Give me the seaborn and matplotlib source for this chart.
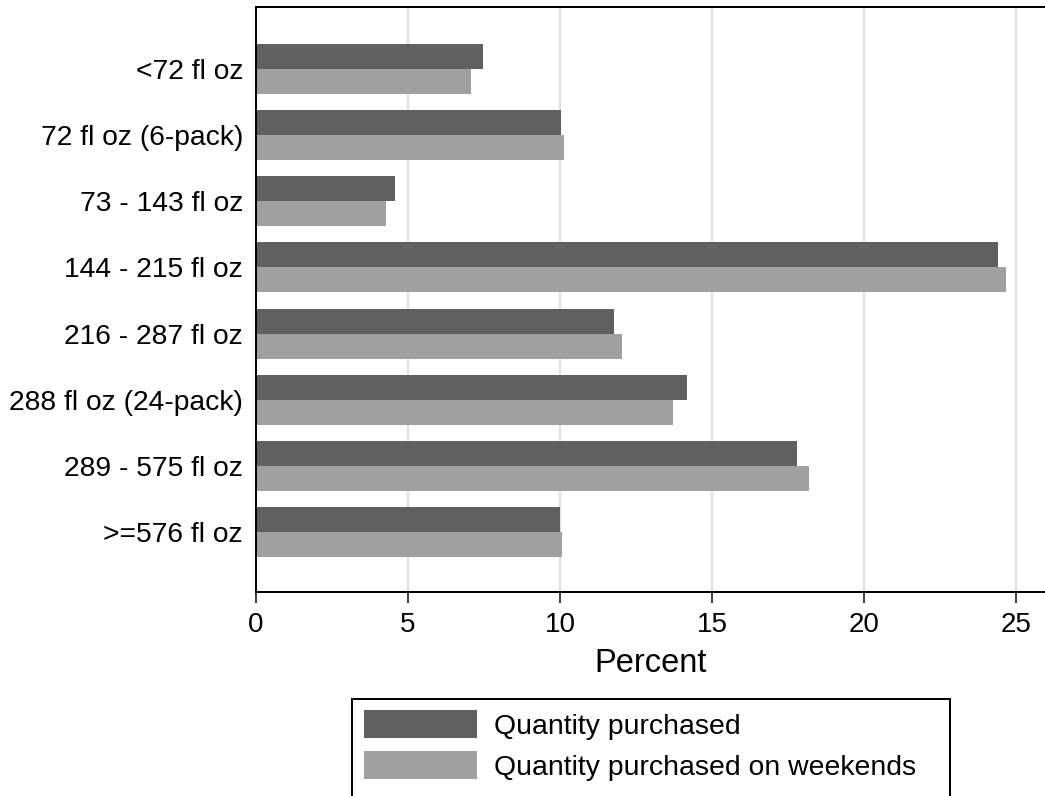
import matplotlib
matplotlib.use('Agg')
import matplotlib.pyplot as plt
import seaborn as sns
import pandas as pd
from matplotlib.patches import Patch, Rectangle

# data
categories = ["<72 fl oz", "72 fl oz (6-pack)", "73 - 143 fl oz", "144 - 215 fl oz",
              "216 - 287 fl oz", "288 fl oz (24-pack)", "289 - 575 fl oz", ">=576 fl oz"]
series = ["Quantity purchased", "Quantity purchased on weekends"]
all_pct     = [7.48, 10.04, 4.57, 24.42, 11.77, 14.18, 17.80, 10.00]
weekend_pct = [7.08, 10.14, 4.28, 24.68, 12.05, 13.72, 18.19, 10.08]
x_ticks = [0, 5, 10, 15, 20, 25]

DARK, LIGHT = "#606060", "#a0a0a0"
PX = 0.72  # one pixel in points at dpi 100

df = pd.DataFrame({
    "category": categories * 2,
    "percent": all_pct + weekend_pct,
    "series": [series[0]] * len(categories) + [series[1]] * len(categories),
})

sns.set_style("white")
plt.rcParams['font.family'] = ['Liberation Sans', 'DejaVu Sans']
plt.rcParams['text.color'] = 'black'
plt.rcParams['xtick.color'] = 'black'
plt.rcParams['ytick.color'] = 'black'
plt.rcParams['axes.labelcolor'] = 'black'

W, H = 1045, 796
fig = plt.figure(figsize=(W / 100, H / 100), dpi=100)
ax = fig.add_axes([256 / W, 1 - 592 / H, 1 - 256 / W, (592 - 7) / H])

sns.barplot(data=df, y="category", x="percent", hue="series", orient="h",
            palette=[DARK, LIGHT], saturation=1, width=0.755, legend=False,
            order=categories, hue_order=series, linewidth=0, edgecolor='none', ax=ax)

ax.set_xlim(0, 25.95)
ax.set_ylim(7.9, -0.93)
ax.set_xticks(x_ticks)
ax.grid(axis='x', color='#dddddd', lw=2 * PX)
ax.grid(axis='y', visible=False)
ax.set_axisbelow(True)

ax.tick_params(axis='x', direction='out', length=11 * PX, width=1.5 * PX, color='black',
               labelsize=20, pad=9 * PX, bottom=True)
ax.tick_params(axis='y', length=0, labelsize=20.3, pad=13 * PX)
ax.set_ylabel("")
ax.set_xlabel("Percent", fontsize=23.5, labelpad=10 * PX)

# frame: left, bottom and top lines; right side runs off the image
for side in ['left', 'bottom', 'top']:
    ax.spines[side].set_visible(True)
    ax.spines[side].set_color('black')
    ax.spines[side].set_linewidth(2 * PX)
ax.spines['right'].set_visible(False)

# legend: entries without frame, frame drawn as a box running off the bottom edge
handles = [Patch(facecolor=DARK, edgecolor='none'), Patch(facecolor=LIGHT, edgecolor='none')]
fig.legend(handles, series, loc='upper left',
           bbox_to_anchor=(364 / W, 1 - 710 / H), fontsize=20.4,
           frameon=False, borderaxespad=0, borderpad=0,
           handlelength=4.0, handleheight=1.15, handletextpad=0.6,
           labelspacing=0.4)
fig.patches.append(Rectangle((352 / W, -0.02), (950 - 352) / W, (796 - 699) / H + 0.02,
                             transform=fig.transFigure, fill=False,
                             edgecolor='black', linewidth=2 * PX))

plt.savefig("out.png", dpi=100)
plt.close()
